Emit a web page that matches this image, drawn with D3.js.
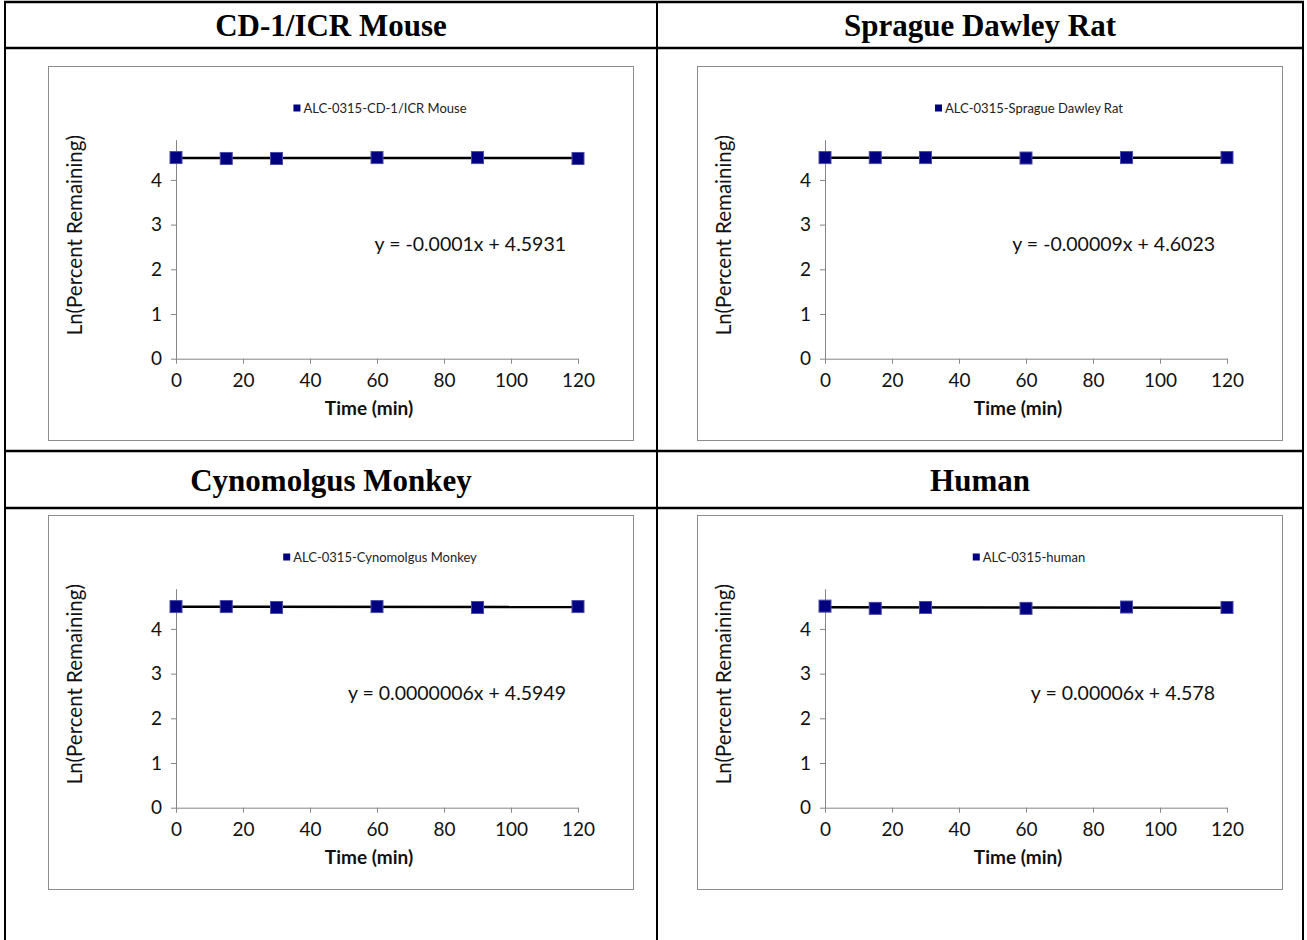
<!DOCTYPE html>
<html>
<head>
<meta charset="utf-8">
<script src="https://cdn.jsdelivr.net/npm/d3@7"></script>
<style>
  body { margin: 0; background: #fff; }
  .axis path, .axis line { stroke: #868686; }
  .axis text { font-family: Lato, "Open Sans", sans-serif; font-size: 19px; fill: #111; }
</style>
</head>
<body>
<div id="chart"></div>
<script>
// Panel titles, legend labels and the trendline equations printed on each chart
const panelTitles = ["CD-1/ICR Mouse", "Sprague Dawley Rat", "Cynomolgus Monkey", "Human"];
const legendLabels = ["ALC-0315-CD-1/ICR Mouse", "ALC-0315-Sprague Dawley Rat",
    "ALC-0315-Cynomolgus Monkey", "ALC-0315-human"];
const equations = ["y = -0.0001x + 4.5931", "y = -0.00009x + 4.6023",
    "y = 0.0000006x + 4.5949", "y = 0.00006x + 4.578"];

// Sampling times (min) and Ln(percent remaining)
const times = [0, 15, 30, 60, 90, 120];
const mouseLn = [4.50, 4.48, 4.48, 4.50, 4.50, 4.48];
const ratLn = [4.50, 4.50, 4.50, 4.49, 4.50, 4.50];
const monkeyLn = [4.50, 4.50, 4.48, 4.50, 4.48, 4.50];
const humanLn = [4.51, 4.46, 4.48, 4.46, 4.49, 4.48];

const xTicks = [0, 20, 40, 60, 80, 100, 120];
const yTicks = [0, 1, 2, 3, 4];

const seriesList = [mouseLn, ratLn, monkeyLn, humanLn];

const W = 1307, H = 940;
const svg = d3.select("#chart").append("svg")
    .attr("width", W)
    .attr("height", H);

// Table grid
const colX = [5, 657, 1303];
const rowY = [2, 48, 451, 508];
colX.forEach(x => {
    svg.append("line")
        .attr("x1", x).attr("x2", x)
        .attr("y1", rowY[0]).attr("y2", H)
        .attr("stroke", "#000").attr("stroke-width", 2);
});
rowY.forEach(y => {
    svg.append("line")
        .attr("x1", colX[0] - 1).attr("x2", colX[2] + 1)
        .attr("y1", y).attr("y2", y)
        .attr("stroke", "#000").attr("stroke-width", 2.5);
});

// Headers
const headerPos = [
    {x: (colX[0] + colX[1]) / 2, y: (rowY[0] + rowY[1]) / 2},
    {x: (colX[1] + colX[2]) / 2, y: (rowY[0] + rowY[1]) / 2},
    {x: (colX[0] + colX[1]) / 2, y: (rowY[2] + rowY[3]) / 2},
    {x: (colX[1] + colX[2]) / 2, y: (rowY[2] + rowY[3]) / 2}
];
panelTitles.forEach((t, i) => {
    svg.append("text")
        .attr("x", headerPos[i].x)
        .attr("y", headerPos[i].y + 11)
        .attr("text-anchor", "middle")
        .style("font-family", "'Liberation Serif', 'Times New Roman', serif")
        .style("font-weight", "bold")
        .style("font-size", "31px")
        .text(t);
});

// Chart boxes
const boxes = [[48, 66], [697, 66], [48, 515], [697, 515]];
const boxW = 585, boxH = 374;
const plot = {left: 128, top: 73.7, width: 402, height: 219};

const x = d3.scaleLinear().domain([0, 120]).range([0, plot.width]);
const y = d3.scaleLinear().domain([0, 4.9]).range([plot.height, 0]);

seriesList.forEach((vals, i) => {
    const box = svg.append("g")
        .attr("transform", `translate(${boxes[i][0]},${boxes[i][1]})`);

    box.append("rect")
        .attr("x", 0.5).attr("y", 0.5)
        .attr("width", boxW).attr("height", boxH)
        .attr("fill", "#fff")
        .attr("stroke", "#8c8c8c");

    const g = box.append("g")
        .attr("transform", `translate(${plot.left},${plot.top})`);

    // Axes
    g.append("g")
        .attr("class", "axis")
        .attr("transform", `translate(0,${plot.height})`)
        .call(d3.axisBottom(x).tickValues(xTicks).tickSize(5).tickSizeOuter(0).tickPadding(10));

    g.append("g")
        .attr("class", "axis")
        .call(d3.axisLeft(y).tickValues(yTicks).tickFormat(d3.format("d"))
            .tickSize(5).tickSizeOuter(0).tickPadding(9));

    // Linear trendline (least squares through the points)
    const pts = times.map((t, k) => ({t: t, v: vals[k]}));
    const mx = d3.mean(pts, d => d.t), my = d3.mean(pts, d => d.v);
    const slope = d3.sum(pts, d => (d.t - mx) * (d.v - my)) / d3.sum(pts, d => (d.t - mx) ** 2);
    const icpt = my - slope * mx;
    g.append("line")
        .attr("x1", x(0)).attr("x2", x(120))
        .attr("y1", y(icpt)).attr("y2", y(icpt + slope * 120))
        .attr("stroke", "#000")
        .attr("stroke-width", 2.5);

    // Square markers
    g.selectAll("rect.pt")
        .data(pts)
        .enter().append("rect")
        .attr("class", "pt")
        .attr("x", d => x(d.t) - 6)
        .attr("y", d => y(d.v) - 6)
        .attr("width", 12).attr("height", 12)
        .attr("fill", "#000080")
        .attr("stroke", "#4a4aa8")
        .attr("stroke-width", 1);

    // Equation
    g.append("text")
        .attr("x", 390)
        .attr("y", 104)
        .attr("dy", "0.35em")
        .attr("text-anchor", "end")
        .style("font-family", "Lato, 'Open Sans', sans-serif")
        .style("font-size", "19.5px")
        .style("fill", "#111")
        .text(equations[i]);

    // Legend
    const legend = box.append("g");
    const legText = legend.append("text")
        .attr("x", 0)
        .attr("y", 42)
        .attr("dy", "0.35em")
        .style("font-family", "Lato, 'Open Sans', sans-serif")
        .style("font-size", "13px")
        .style("fill", "#222")
        .text(legendLabels[i]);
    const tw = legText.node().getComputedTextLength();
    const lx = plot.left + plot.width / 2 + 3 - (tw + 10) / 2;
    legend.append("rect")
        .attr("x", lx).attr("y", 38.5)
        .attr("width", 7).attr("height", 7)
        .attr("fill", "#000080");
    legText.attr("x", lx + 10);

    // Axis titles
    box.append("text")
        .attr("transform", `translate(27,${plot.top + plot.height / 2 - 14}) rotate(-90)`)
        .attr("text-anchor", "middle")
        .attr("dy", "0.35em")
        .style("font-family", "Lato, 'Open Sans', sans-serif")
        .style("font-size", "20.5px")
        .style("fill", "#111")
        .text("Ln(Percent Remaining)");

    box.append("text")
        .attr("x", plot.left + plot.width / 2 - 8)
        .attr("y", 342)
        .attr("dy", "0.35em")
        .attr("text-anchor", "middle")
        .style("font-family", "Lato, 'Open Sans', sans-serif")
        .style("font-weight", "bold")
        .style("font-size", "19px")
        .style("fill", "#111")
        .text("Time (min)");
});
</script>
</body>
</html>
